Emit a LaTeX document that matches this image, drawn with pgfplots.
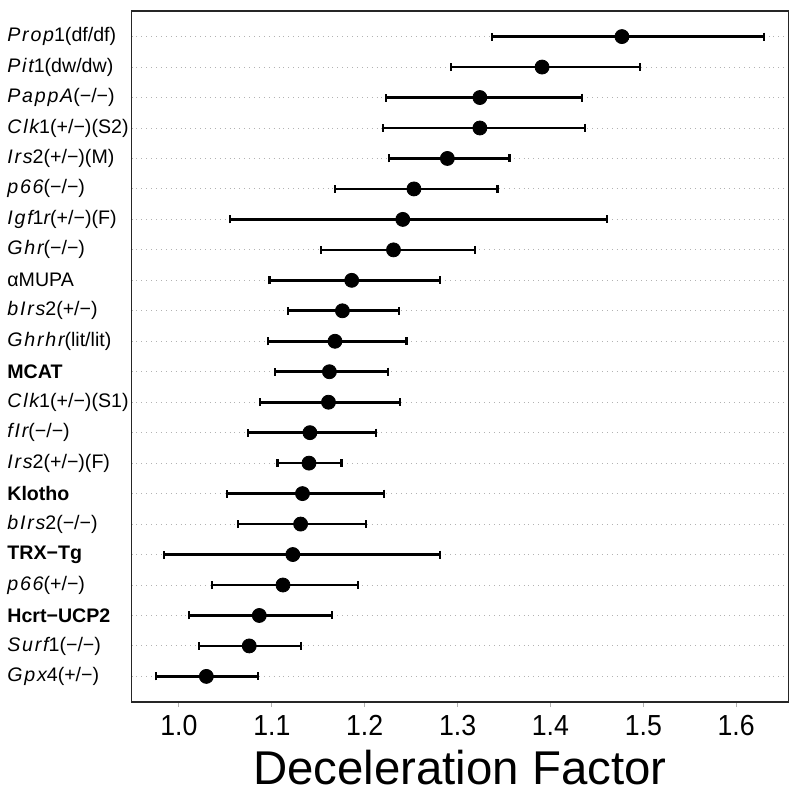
\documentclass[border=0pt]{standalone}
\usepackage{pgfplots}
\pgfplotsset{compat=1.18}
\usepackage{pgfplotstable}
\usepackage{graphicx}
\usepackage{fontspec}
\setmainfont{Liberation Sans}
\pgfplotstableread{
row est lo hi
22 1.477 1.337 1.630
21 1.391 1.293 1.496
20 1.324 1.223 1.434
19 1.324 1.220 1.437
18 1.289 1.226 1.356
17 1.253 1.168 1.343
16 1.241 1.055 1.461
15 1.231 1.153 1.319
14 1.186 1.0975 1.281
13 1.176 1.117 1.237
12 1.168 1.096 1.245
11 1.162 1.103 1.225
10 1.161 1.0875 1.238
9 1.141 1.074 1.212
8 1.140 1.106 1.175
7 1.133 1.052 1.221
6 1.131 1.064 1.2015
5 1.1226 0.9835 1.281
4 1.112 1.036 1.1925
3 1.0865 1.0104 1.1645
2 1.0757 1.022 1.131
1 1.0295 0.9757 1.085
}\datatable
\newcommand\g[1]{{\itshape\addfontfeature{LetterSpace=9}#1}}
\newcommand\sx[1]{\scalebox{0.92}[1]{#1}}
\begin{document}
\begin{tikzpicture}
\path[use as bounding box] (-65.8pt,-49pt) rectangle (334.2pt,351pt);
\begin{axis}[
  scale only axis,
  width=328.3pt, height=345.5pt,
  xmin=0.949, xmax=1.656,
  ymin=0.16, ymax=22.84,
  axis line style={black!85, line width=0.6pt},
  xtick={1.0,1.1,1.2,1.3,1.4,1.5,1.6},
  xticklabels={\sx{1.0},\sx{1.1},\sx{1.2},\sx{1.3},\sx{1.4},\sx{1.5},\sx{1.6}},
  xtick pos=bottom, tick align=outside,
  major tick length=2.5pt,
  x tick style={black!30, line width=0.5pt},
  xticklabel style={font=\fontsize{14.5}{16}\selectfont, anchor=base, yshift=-14.3pt},
  ytick={1,...,22},
  yticklabels={
    \g{Gpx}4(+/−),
    \g{Surf}1(−/−),
    \textbf{Hcrt−UCP2},
    \g{p66}(+/−),
    \textbf{TRX−Tg},
    \g{bIrs}2(−/−),
    \textbf{Klotho},
    \g{Irs}2(+/−)(F),
    \g{fIr}(−/−),
    \g{Clk}1(+/−)(S1),
    \textbf{MCAT},
    \g{Ghrhr}(lit/lit),
    \g{bIrs}2(+/−),
    αMUPA,
    \g{Ghr}(−/−),
    \g{Igf}1\g{r}(+/−)(F),
    \g{p66}(−/−),
    \g{Irs}2(+/−)(M),
    \g{Clk}1(+/−)(S2),
    \g{PappA}(−/−),
    \g{Pit}1(dw/dw),
    \g{Prop}1(df/df)},
  y tick style={draw=none},
  yticklabel style={font=\fontsize{9.8}{11}\selectfont, anchor=west, inner sep=0pt, xshift=-59.8pt},
  ymajorgrids,
  grid style={black!30, line width=0.45pt, dash pattern=on 0.45pt off 2pt},
  xlabel={Deceleration Factor},
  xlabel style={font=\fontsize{23.7}{26}\selectfont, at={(axis description cs:0.5,0)}, anchor=base, yshift=-41pt},
]
\addplot[only marks, mark=*, black, mark size=3.5pt,
  error bars/.cd, x dir=both, x explicit,
  error bar style={line width=1.35pt, black},
  error mark options={line width=1.1pt, mark size=2pt, black, rotate=90}]
  table[x=est, y=row,
        x error plus expr=\thisrow{hi}-\thisrow{est},
        x error minus expr=\thisrow{est}-\thisrow{lo}] {\datatable};
\end{axis}
\end{tikzpicture}
\end{document}
